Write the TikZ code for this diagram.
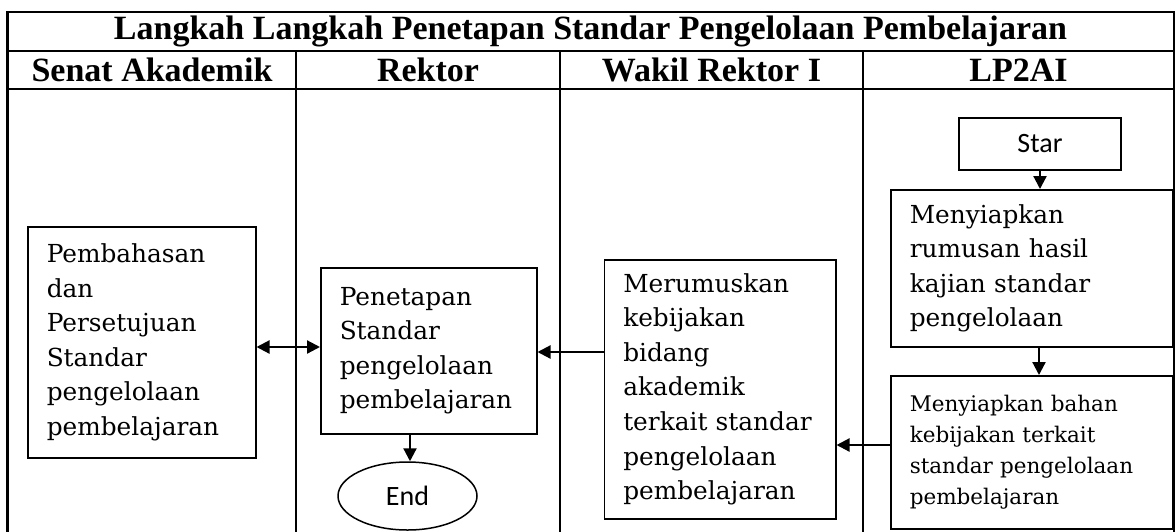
\documentclass[tikz,border=0pt]{standalone}
\usepackage{fontspec}
\setmainfont{DejaVu Serif}
\newfontfamily\hdfont{Liberation Serif}
\newfontfamily\calfont{Carlito}
\usetikzlibrary{arrows.meta,shapes.geometric}
\begin{document}
\begin{tikzpicture}[x=1pt,y=-1pt,
  tbl/.style={line width=2.2pt},
  pbox/.style={draw,line width=1.5pt,inner xsep=19pt,inner ysep=0pt,align=left,anchor=north west,
    font=\fontsize{24.8}{34.6}\selectfont},
  sbox/.style={pbox,font=\fontsize{21.5}{31}\selectfont},
  conn/.style={line width=2.2pt,-{Triangle[length=13pt,width=13pt]}},
  dconn/.style={line width=2.2pt,{Triangle[length=13pt,width=13pt]}-{Triangle[length=13pt,width=13pt]}},
  hd/.style={font=\hdfont\bfseries\fontsize{34}{40}\selectfont,inner sep=0pt}]
\useasboundingbox (0,0) rectangle (1175,531);
% table
\draw[tbl] (7.5,540) -- (7.5,12) -- (1174,12) -- (1174,540);
\draw[tbl] (7.5,51) -- (1174,51);
\draw[tbl] (7.5,89) -- (1174,89);
\draw[tbl] (296,51) -- (296,540);
\draw[tbl] (560,51) -- (560,540);
\draw[tbl] (863,51) -- (863,540);
% headers
\node[hd] (title) at (590.5,31.5) {Langkah Langkah Penetapan Standar Pengelolaan Pembelajaran};
\node[hd] (h1) at (152,70) {Senat Akademik};
\node[hd] (h2) at (428,70) {Rektor};
\node[hd] (h3) at (711.5,70) {Wakil Rektor I};
\node[hd] (h4) at (1018.5,70) {LP2AI};
% boxes
\node[pbox,text width=190pt,minimum height=231pt] (pb) at (27,226)
  {Pembahasan\\dan\\Persetujuan\\Standar\\pengelolaan\\pembelajaran};
\node[pbox,text width=178pt,minimum height=166pt] (rk) at (320,267)
  {Penetapan\\Standar\\pengelolaan\\pembelajaran};
\node[pbox,text width=193.5pt,minimum height=259pt] (wk) at (603.5,259)
  {Merumuskan\\kebijakan\\bidang\\akademik\\terkait standar\\pengelolaan\\pembelajaran};
\node[pbox,text width=244pt,minimum height=157pt] (lp1) at (890,189)
  {Menyiapkan\\rumusan hasil\\kajian standar\\pengelolaan};
\node[sbox,text width=244pt,minimum height=153pt] (lp2) at (890,375)
  {Menyiapkan bahan\\kebijakan terkait\\standar pengelolaan\\pembelajaran};
\node[draw,line width=1.5pt,minimum width=162pt,minimum height=52pt,inner sep=0pt,
  font=\calfont\fontsize{28}{32}\selectfont] (star) at (1040,144) {Star};
\node[draw,ellipse,line width=1.5pt,minimum width=139pt,minimum height=68pt,inner sep=0pt,
  font=\calfont\fontsize{28}{32}\selectfont] (end) at (407.5,496) {End};
% connectors
\coordinate (y1) at (0,347);
\coordinate (y2) at (0,352);
\coordinate (y3) at (0,445);
\coordinate (x1) at (1039,0);
\coordinate (x2) at (410,0);
\draw[dconn] (pb.east |- y1) -- (rk.west |- y1);
\draw[conn] (wk.west |- y2) -- (rk.east |- y2);
\draw[conn] (lp2.west |- y3) -- (wk.east |- y3);
\draw[conn] (star.south) -- (star.south |- lp1.north);
\draw[conn] (x1 |- lp1.south) -- (x1 |- lp2.north);
\draw[conn] (x2 |- rk.south) -- (x2 |- end.north);
\end{tikzpicture}
\end{document}
